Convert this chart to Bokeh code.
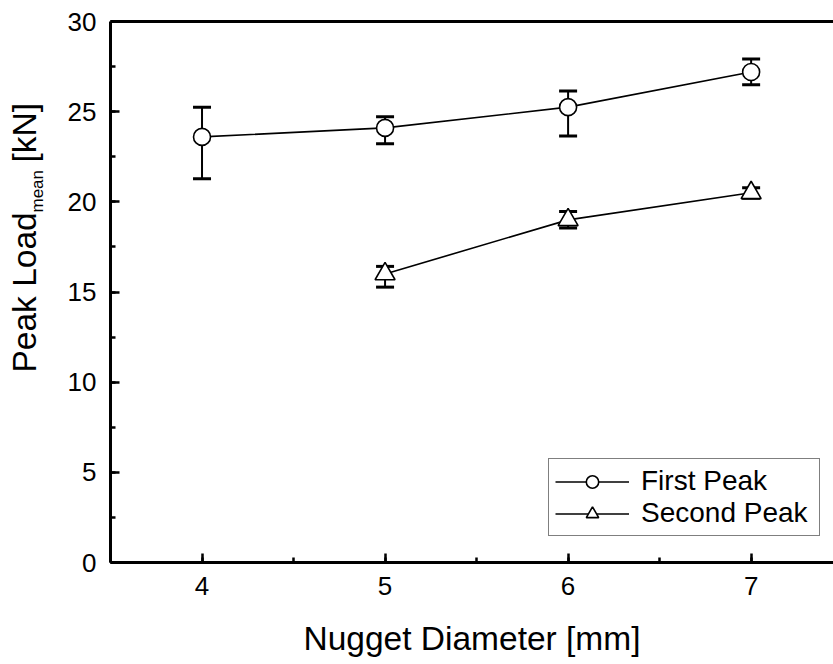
import math
from bokeh.plotting import figure
from bokeh.layouts import row
from bokeh.models import (ColumnDataSource, Whisker, TeeHead, Legend, LegendItem,
                          LinearAxis, FixedTicker, SingleIntervalTicker, Range1d)
from bokeh.core.properties import value
from bokeh.embed import file_html
from bokeh.resources import INLINE

# ---- data ----
first_diameter = [4, 5, 6, 7]
first_mean = [23.6, 24.1, 25.25, 27.2]
first_upper = [25.25, 24.72, 26.15, 27.92]
first_lower = [21.28, 23.22, 23.65, 26.49]

second_diameter = [5, 6, 7]
second_mean = [16.0, 19.0, 20.5]
second_upper = [16.42, 19.47, 20.78]
second_lower = [15.27, 18.55, 20.2]

x_tick_step = 1
y_tick_step = 5

x_title = "Nugget Diameter [mm]"
y_title_main = "Peak Load"
y_title_sub = "mean"
y_title_unit = "[kN]"

FONT = "Liberation Sans"

src1 = ColumnDataSource(dict(x=first_diameter, y=first_mean, upper=first_upper, lower=first_lower))
src2 = ColumnDataSource(dict(x=second_diameter, y=second_mean, upper=second_upper, lower=second_lower))

LW = 62  # width of the y-title strip
TOP, BOTTOM = 21, 102

p = figure(width=833 - LW, height=664, x_range=(3.5, 7.45), y_range=(0, 30),
           output_backend="svg", toolbar_location=None,
           min_border_left=110 - LW, min_border_right=0, min_border_top=TOP, min_border_bottom=BOTTOM)
p.xgrid.visible = False
p.ygrid.visible = False
p.outline_line_color = None
p.background_fill_color = "white"
p.border_fill_color = "white"

for ax, step in ((p.xaxis[0], x_tick_step), (p.yaxis[0], y_tick_step)):
    ax.ticker = SingleIntervalTicker(interval=step, num_minor_ticks=2)
    ax.axis_line_width = 3
    ax.axis_line_color = "black"
    ax.major_tick_in = 9
    ax.major_tick_out = 0
    ax.minor_tick_in = 5
    ax.minor_tick_out = 0
    ax.major_tick_line_width = 2.5
    ax.minor_tick_line_width = 2.5
    ax.major_tick_line_color = "black"
    ax.minor_tick_line_color = "black"
    ax.major_label_text_font = FONT
    ax.major_label_text_font_size = "26px"
    ax.major_label_text_color = "black"
p.xaxis.major_label_standoff = 14
p.yaxis.major_label_standoff = 14
p.xaxis.axis_label = x_title
p.xaxis.axis_label_text_font = FONT
p.xaxis.axis_label_text_font_size = "33.5px"
p.xaxis.axis_label_text_font_style = "normal"
p.xaxis.axis_label_text_color = "black"
p.xaxis.axis_label_standoff = 22

top = LinearAxis(ticker=FixedTicker(ticks=[]), axis_line_width=3, axis_line_color="black",
                 major_tick_in=0, major_tick_out=0, minor_tick_in=0, minor_tick_out=0)
p.add_layout(top, "above")

# error bars
for src in (src1, src2):
    w = Whisker(base="x", upper="upper", lower="lower", source=src,
                line_width=2, line_color="black", level="underlay",
                upper_head=TeeHead(size=18, line_width=3, line_color="black"),
                lower_head=TeeHead(size=18, line_width=3, line_color="black"))
    p.add_layout(w)

l1 = p.line("x", "y", source=src1, line_width=1.6, line_color="black")
s1 = p.scatter("x", "y", source=src1, marker="circle", size=17, fill_color="white",
               line_color="black", line_width=1.6)
l2 = p.line("x", "y", source=src2, line_width=1.6, line_color="black")
s2 = p.scatter("x", "y", source=src2, marker="triangle", size=20, fill_color="white",
               line_color="black", line_width=1.6)

legend = Legend(items=[LegendItem(label="First Peak", renderers=[l1, s1]),
                       LegendItem(label="Second Peak", renderers=[l2, s2])],
                location=(438, 26))
legend.label_text_font = FONT
legend.label_text_font_size = "28px"
legend.label_text_color = "black"
legend.glyph_width = 74
legend.glyph_height = 31
legend.label_height = 31
legend.label_width = 172
legend.label_standoff = 12
legend.padding = 6
legend.spacing = 0
legend.margin = 0
legend.border_line_color = "black"
legend.border_line_width = 1
legend.background_fill_color = "white"
legend.background_fill_alpha = 1
p.add_layout(legend)

# y-axis title strip; its frame spans the same rows as the main frame,
# so its y range is expressed in page pixels (top-down)
yt = figure(width=LW, height=664, x_range=Range1d(0, LW), y_range=Range1d(664 - BOTTOM, TOP),
            output_backend="svg", toolbar_location=None,
            min_border_left=0, min_border_right=0, min_border_top=TOP, min_border_bottom=BOTTOM,
            x_axis_location=None, y_axis_location=None)
yt.xgrid.visible = False
yt.ygrid.visible = False
yt.outline_line_color = None
yt.text(x=[24], y=[372], text=[y_title_main], angle=math.pi / 2,
        text_align="left", text_baseline="alphabetic",
        text_font=value(FONT), text_font_size="33.5px", text_color="black")
yt.text(x=[37], y=[212], text=[y_title_sub], angle=math.pi / 2,
        text_align="left", text_baseline="alphabetic",
        text_font=value(FONT), text_font_size="17px", text_color="black")
yt.text(x=[24], y=[162], text=[y_title_unit], angle=math.pi / 2,
        text_align="left", text_baseline="alphabetic",
        text_font=value(FONT), text_font_size="33.5px", text_color="black")

open("out.html", "w").write(file_html(row(yt, p), INLINE))
